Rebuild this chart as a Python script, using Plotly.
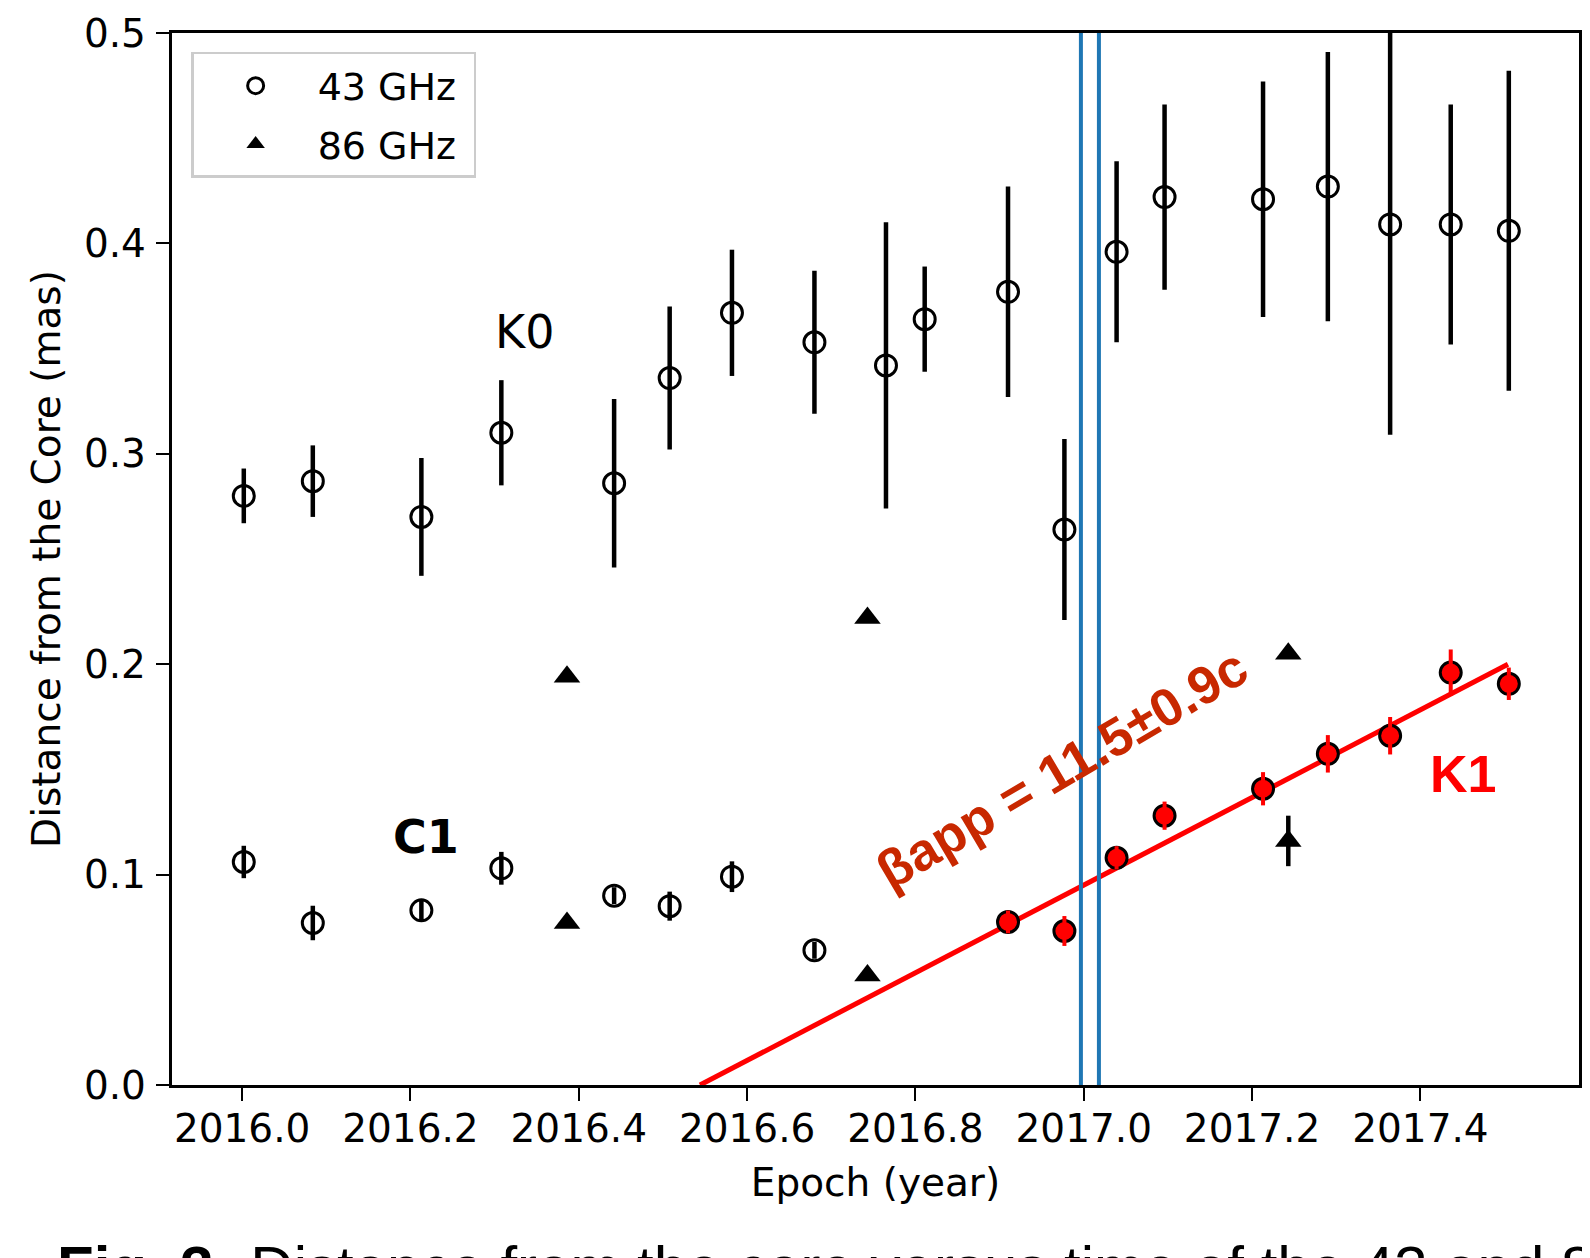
import plotly.graph_objects as go

# ---------------- data ----------------
k0_epoch = [2016.002, 2016.084, 2016.213, 2016.308, 2016.442, 2016.508, 2016.582,
            2016.680, 2016.765, 2016.811, 2016.910, 2016.977, 2017.039, 2017.096,
            2017.213, 2017.290, 2017.364, 2017.436, 2017.505]
k0_dist = [0.280, 0.287, 0.270, 0.310, 0.286, 0.336, 0.367, 0.353, 0.342, 0.364,
           0.377, 0.264, 0.396, 0.422, 0.421, 0.427, 0.409, 0.409, 0.406]
k0_err = [0.013, 0.017, 0.028, 0.025, 0.040, 0.034, 0.030, 0.034, 0.068, 0.025,
          0.050, 0.043, 0.043, 0.044, 0.056, 0.064, 0.100, 0.057, 0.076]

c1_epoch = [2016.002, 2016.084, 2016.213, 2016.308, 2016.442, 2016.508, 2016.582, 2016.680]
c1_dist = [0.106, 0.077, 0.083, 0.103, 0.090, 0.085, 0.099, 0.064]
c1_err = [0.0077, 0.0082, 0.005, 0.0078, 0.004, 0.0069, 0.0073, 0.004]

ghz86_epoch = [2016.386, 2016.386, 2016.743, 2016.743, 2017.243, 2017.243]
ghz86_dist = [0.194, 0.077, 0.222, 0.052, 0.205, 0.116]
ghz86_err = [0.0, 0.0, 0.0, 0.0, 0.0, 0.012]

k1_epoch = [2016.910, 2016.977, 2017.039, 2017.096, 2017.213, 2017.290, 2017.364, 2017.436, 2017.505]
k1_dist = [0.0775, 0.0732, 0.108, 0.128, 0.1408, 0.1574, 0.166, 0.196, 0.1907]
k1_err = [0.0054, 0.0071, 0.0055, 0.0067, 0.0079, 0.0089, 0.0089, 0.011, 0.0077]

fit_epoch = [2016.544, 2017.504]
fit_dist = [0.0, 0.200]

vline_epoch = [2016.9966, 2017.018]

x_ticks = [2016.0, 2016.2, 2016.4, 2016.6, 2016.8, 2017.0, 2017.2, 2017.4]
y_ticks = [0.0, 0.1, 0.2, 0.3, 0.4, 0.5]

# ---------------- figure ----------------
FONT = "DejaVu Sans"
fig = go.Figure()

fig.add_trace(go.Scatter(x=fit_epoch, y=fit_dist, mode="lines",
                         line=dict(color="#ff0000", width=5),
                         showlegend=False, hoverinfo="skip"))

err_black = dict(type="data", color="black", thickness=4.5, width=0)

fig.add_trace(go.Scatter(x=k0_epoch, y=k0_dist, mode="markers", name="43 GHz\u00a0",
                         legendgroup="g43",
                         error_y=dict(err_black, array=k0_err),
                         marker=dict(symbol="circle-open", size=21, color="black",
                                     line=dict(width=3, color="black"))))
fig.add_trace(go.Scatter(x=c1_epoch, y=c1_dist, mode="markers", name="43 GHz",
                         legendgroup="g43", showlegend=False,
                         error_y=dict(err_black, array=c1_err),
                         marker=dict(symbol="circle-open", size=21, color="black",
                                     line=dict(width=3, color="black"))))
fig.add_trace(go.Scatter(x=ghz86_epoch, y=ghz86_dist, mode="markers", name="86 GHz\u00a0",
                         legendgroup="g86",
                         error_y=dict(err_black, array=ghz86_err),
                         marker=dict(symbol="triangle-up", size=23, color="black")))
fig.add_trace(go.Scatter(x=k1_epoch, y=k1_dist, mode="markers", showlegend=False,
                         marker=dict(symbol="circle", size=21, color="#ff0000",
                                     line=dict(width=3, color="black"))))
fig.add_trace(go.Scatter(x=k1_epoch, y=k1_dist, mode="markers", showlegend=False,
                         error_y=dict(type="data", array=k1_err, color="#ff0000",
                                      thickness=4, width=0),
                         marker=dict(size=1, opacity=0), hoverinfo="skip"))

for vx in vline_epoch:
    fig.add_vline(x=vx, line=dict(color="#1f77b4", width=4))

# text labels
fig.add_annotation(x=2016.335, y=0.358, text="K0", showarrow=False,
                   font=dict(family=FONT, size=46, color="black"))
fig.add_annotation(x=2016.219, y=0.118, text="<b>C1</b>", showarrow=False,
                   font=dict(family=FONT, size=46, color="black"))
fig.add_annotation(x=2017.451, y=0.148, text="<b>K1</b>", showarrow=False,
                   font=dict(family="Liberation Sans", size=52, color="#ff0000"))
fig.add_annotation(x=2016.974, y=0.1505, text="<b>βapp = 11.5±0.9c</b>", showarrow=False,
                   textangle=-30.5,
                   font=dict(family="Liberation Sans", size=53, color="#c82800"))

# cropped caption at the bottom of the page
fig.add_annotation(xref="paper", yref="paper", x=-0.083, y=-0.1393,
                   xanchor="left", yanchor="top", showarrow=False,
                   text="<b>Fig. 3:</b> Distance from the core versus time of the 43 and 86 GHz components",
                   font=dict(family="Liberation Sans", size=60, color="black"))

axis_common = dict(showgrid=False, zeroline=False, showline=True, linecolor="black",
                   linewidth=2.5, mirror=True, ticks="outside", ticklen=13.5,
                   tickwidth=2, tickcolor="black", automargin=False,
                   tickfont=dict(family=FONT, size=39, color="black"))

# the page adds an 8 px offset around the figure, compensated in the margins
fig.update_layout(
    width=1590, height=1258,
    margin=dict(l=163.5, r=19, t=24.7, b=180.6, autoexpand=False),
    paper_bgcolor="white", plot_bgcolor="white",
    xaxis=dict(axis_common, range=[2015.9167, 2017.5884], tickvals=x_ticks,
               ticktext=[f"{v:.1f}" for v in x_ticks], ticklabelstandoff=-6,
               title=dict(text="Epoch (year)", font=dict(family=FONT, size=39, color="black"),
                          standoff=19)),
    yaxis=dict(axis_common, range=[0, 0.5], tickvals=y_ticks,
               ticktext=[f"{v:.1f}" for v in y_ticks], ticklabelstandoff=2,
               title=dict(text="Distance from the Core (mas)",
                          font=dict(family=FONT, size=39, color="black"), standoff=12)),
    legend=dict(x=0.0136, y=0.982, xanchor="left", yanchor="top",
                bgcolor="white", bordercolor="#cccccc", borderwidth=2.5,
                font=dict(family=FONT, size=38, color="black"),
                itemwidth=114, tracegroupgap=6, traceorder="grouped"),
    showlegend=True,
)

fig.write_html("out.html")
